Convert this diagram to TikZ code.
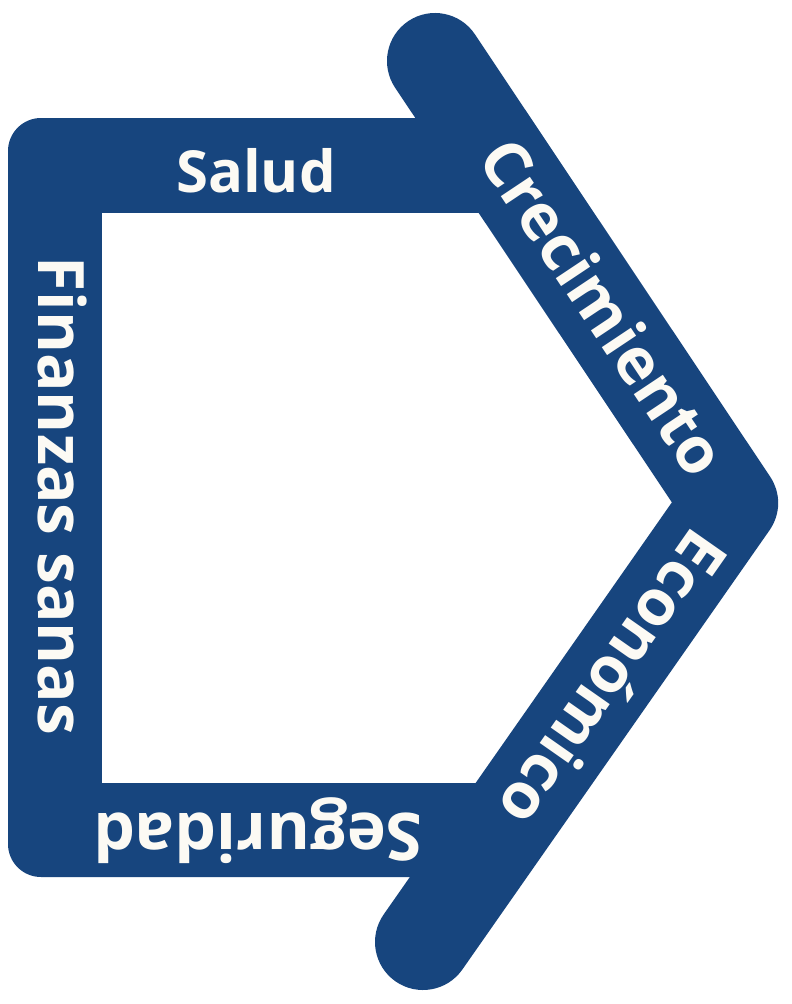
\documentclass[tikz,border=0pt]{standalone}
\usepackage{fontspec}
\setmainfont{Open Sans}
\definecolor{navy}{RGB}{23,69,126}
\definecolor{cream}{RGB}{252,250,244}
\begin{document}
\begin{tikzpicture}[x=1pt,y=-1pt,
  band/.style={draw=navy,line width=96pt,line cap=round,line join=round},
  lbl/.style={text=cream,font=\fontsize{58}{60}\selectfont\bfseries,inner sep=0pt},
  big/.style={lbl,font=\fontsize{64}{66}\selectfont\bfseries}]
\useasboundingbox[fill=white] (0,0) rectangle (792,1004);
% frame
\fill[navy,rounded corners=33pt] (8,118) rectangle (500,877);
\fill[white] (102,213) rectangle (540,783);
% roof
\draw[band] (435,61) -- (730,503) -- (423,942);
% labels
\node[lbl,anchor=base] (salud) at (256,192) {Salud};
\node[big,anchor=base,rotate=-90] (finan) at (38,496) {Finanzas sanas};
\node[big,font=\fontsize{66}{68}\selectfont\bfseries,rotate=180] (segur) at (258,831) {Seguridad};
\node[big,rotate=-56.3] (crec) at (604,307) {Crecimiento};
\node[big,rotate=-125] (econ) at (614,680) {Económico};
\end{tikzpicture}
\end{document}
